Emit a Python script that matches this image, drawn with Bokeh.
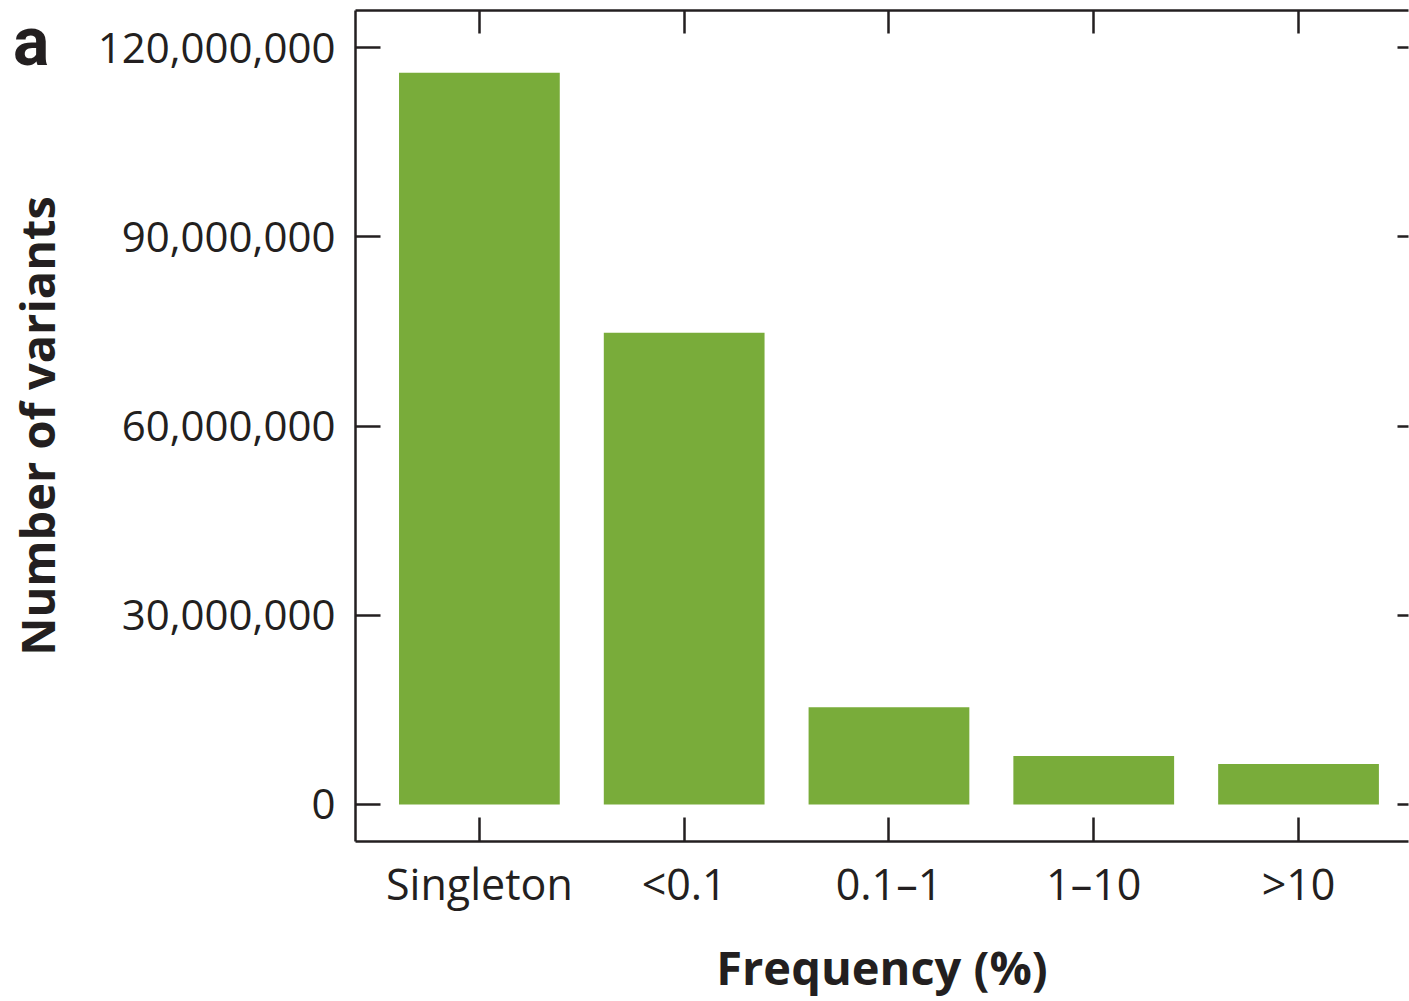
from bokeh.plotting import figure
from bokeh.layouts import column
from bokeh.models import (LinearAxis, FixedTicker, NumeralTickFormatter, Range1d,
                          ColumnDataSource, Div)
from bokeh.embed import file_html
from bokeh.resources import INLINE

# Allele frequency bins and number of variants in each
categories = ["Singleton", "<0.1", "0.1\u20131", "1\u201310", ">10"]
variants = [116_000_000, 74_800_000, 15_400_000, 7_700_000, 6_400_000]
y_ticks = [0, 30_000_000, 60_000_000, 90_000_000, 120_000_000]
panel_letter = "a"

GREEN = "#79ac3a"
INK = "#231f20"
FONT = "Open Sans"

positions = list(range(len(categories)))
src = ColumnDataSource(dict(x=positions, top=variants, cat=categories))

p = figure(width=1409, height=1001, output_backend="svg", toolbar_location=None,
           x_range=Range1d(-0.605, 4.537), y_range=Range1d(-5_870_000, 125_870_000),
           min_border_left=355, min_border_right=1, min_border_top=10, min_border_bottom=0,
           x_axis_location=None, y_axis_location=None)
p.outline_line_color = None
p.grid.visible = False
p.background_fill_color = "white"
p.border_fill_color = "white"

p.vbar(x="x", top="top", bottom=0, width=0.785, source=src,
       fill_color=GREEN, line_color=None)

label_overrides = {i: c for i, c in zip(positions, categories)}


def style(ax, tick_len, line=True):
    ax.axis_line_color = INK if line else None
    ax.axis_line_width = 2.5
    ax.major_tick_line_color = INK
    ax.major_tick_line_width = 2.5
    ax.major_tick_in = tick_len
    ax.major_tick_out = 0
    ax.minor_tick_line_color = None


# left axis: counts
left = LinearAxis(ticker=FixedTicker(ticks=y_ticks),
                  formatter=NumeralTickFormatter(format="0,0"),
                  axis_label="Number of variants")
style(left, 25)
left.major_label_text_font = FONT
left.major_label_text_font_size = "42px"
left.major_label_text_color = INK
left.major_label_standoff = 20
left.axis_label_text_font = FONT
left.axis_label_text_font_style = "bold"
left.axis_label_text_font_size = "47px"
left.axis_label_text_color = INK
left.axis_label_standoff = 26
p.add_layout(left, "left")

# bottom axis: frequency bins
bottom = LinearAxis(ticker=FixedTicker(ticks=positions),
                    major_label_overrides=label_overrides,
                    axis_label="Frequency (%)")
style(bottom, 24)
bottom.major_label_text_font = FONT
bottom.major_label_text_font_size = "43px"
bottom.major_label_text_color = INK
bottom.major_label_standoff = 12
bottom.axis_label_text_font = FONT
bottom.axis_label_text_font_style = "bold"
bottom.axis_label_text_font_size = "47px"
bottom.axis_label_text_color = INK
bottom.axis_label_standoff = 19
p.add_layout(bottom, "below")

# mirrored ticks on top and right
top = LinearAxis(ticker=FixedTicker(ticks=positions), major_label_text_font_size="0px")
style(top, 23)
top.major_label_text_color = None
p.add_layout(top, "above")

right = LinearAxis(ticker=FixedTicker(ticks=y_ticks), major_label_text_font_size="0px")
style(right, 11, line=False)
right.major_label_text_color = None
p.add_layout(right, "right")

# panel letter in the top-left corner, overlaid on the figure's border area
letter = Div(text=panel_letter, width=70, height=90, styles={
    "position": "absolute", "left": "13px", "top": "2px",
    "font-family": "Roboto", "font-weight": "bold", "font-size": "68px",
    "line-height": "normal", "color": INK, "margin": "0", "padding": "0",
    "overflow": "visible", "z-index": "10",
})

layout = column(p, letter)
open("out.html", "w").write(file_html(layout, INLINE))
